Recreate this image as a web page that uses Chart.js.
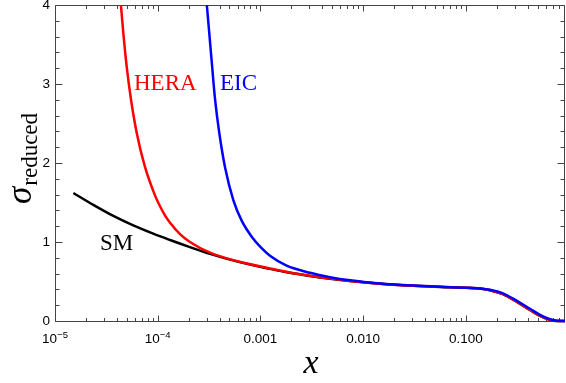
<!DOCTYPE html>
<html>
<head>
<meta charset="utf-8">
<script src="https://cdn.jsdelivr.net/npm/chart.js@4/dist/chart.umd.min.js"></script>
<style>
  html, body { margin: 0; padding: 0; background: #fff; }
</style>
</head>
<body>
<canvas id="myChart" width="566" height="383"></canvas>
<script>
// values
var smX = [1.51e-5, 2.36e-5, 3.70e-5, 5.78e-5, 9.05e-5, 1.32e-4, 2.06e-4, 3.23e-4, 5.87e-4, 1.24e-3, 1.94e-3, 3.04e-3, 4.76e-3, 7.45e-3, 1.46e-2, 3.06e-2, 5.61e-2, 0.1, 0.137, 0.172, 0.230, 0.315, 0.422, 0.528, 0.661, 0.773, 0.925];
var smY = [1.62, 1.47, 1.33, 1.21, 1.105, 1.025, 0.935, 0.85, 0.755, 0.66, 0.61, 0.57, 0.535, 0.505, 0.47, 0.445, 0.43, 0.42, 0.41, 0.39, 0.34, 0.24, 0.14, 0.065, 0.015, 0, 0];

var heraX = [4.37e-5, 4.63e-5, 4.99e-5, 5.50e-5, 6.25e-5, 7.52e-5, 9.41e-5, 1.05e-4, 1.18e-4, 1.32e-4, 1.65e-4, 2.06e-4, 3.23e-4, 5.87e-4, 1.24e-3, 1.94e-3, 3.04e-3, 4.76e-3, 7.45e-3, 1.46e-2, 3.06e-2, 5.61e-2, 0.1, 0.137, 0.172, 0.230, 0.315, 0.422, 0.528, 0.661, 0.773, 0.925];
var heraY = [4.02, 3.64, 3.22, 2.80, 2.38, 1.95, 1.59, 1.455, 1.335, 1.245, 1.10, 1.00, 0.865, 0.76, 0.665, 0.613, 0.572, 0.537, 0.507, 0.472, 0.447, 0.432, 0.421, 0.41, 0.39, 0.34, 0.24, 0.14, 0.065, 0.013, 0, 0];

var eicX = [3.00e-4, 3.18e-4, 3.36e-4, 3.61e-4, 3.98e-4, 4.52e-4, 5.45e-4, 6.57e-4, 8.53e-4, 1.04e-3, 1.24e-3, 1.80e-3, 3.04e-3, 4.76e-3, 7.45e-3, 1.46e-2, 3.06e-2, 5.61e-2, 0.1, 0.137, 0.172, 0.230, 0.315, 0.422, 0.528, 0.661, 0.773, 0.925];
var eicY = [4.02, 3.64, 3.28, 2.82, 2.38, 1.95, 1.53, 1.27, 1.04, 0.915, 0.825, 0.70, 0.61, 0.555, 0.515, 0.475, 0.448, 0.433, 0.422, 0.412, 0.395, 0.35, 0.255, 0.155, 0.078, 0.022, 0.002, 0];

var xTickValues = [1e-5, 1e-4, 1e-3, 1e-2, 1e-1];
var xTickBase = ['10', '10', '0.001', '0.010', '0.100'];
var xTickSup = ['\u22125', '\u22124', '', '', ''];
var yTickValues = [0, 1, 2, 3, 4];

function pts(xs, ys) {
    return xs.map(function (x, i) { return { x: x, y: ys[i] }; });
}

// frame with inward ticks on all four sides
var frame = {
    id: 'frame',
    beforeDatasetsDraw: function (chart) {
        var c = chart.ctx, a = chart.chartArea;
        var sx = chart.scales.x, sy = chart.scales.y;
        var L = Math.round(a.left) + 0.5, R = Math.round(a.right) - 0.5;
        var T = Math.round(a.top) + 0.5, B = Math.round(a.bottom) + 0.5;
        c.save();
        c.strokeStyle = '#444';
        c.lineWidth = 1;
        c.beginPath();
        c.moveTo(L, T); c.lineTo(R, T); c.lineTo(R, B); c.lineTo(L, B); c.closePath();
        for (var d = -5; d <= 0; d++) {
            for (var k = 1; k <= 9; k++) {
                var v = k * Math.pow(10, d);
                if (v < sx.min || v > sx.max) continue;
                var px = Math.round(sx.getPixelForValue(v)) + 0.5;
                var len = k === 1 ? 6 : 3.5;
                c.moveTo(px, B); c.lineTo(px, B - len);
                c.moveTo(px, T); c.lineTo(px, T + len);
            }
        }
        for (var i = 0; i <= 20; i++) {
            var py = Math.round(sy.getPixelForValue(i * 0.2)) + 0.5;
            var l = i % 5 === 0 ? 7 : 4;
            c.moveTo(L, py); c.lineTo(L + l, py);
            c.moveTo(R, py); c.lineTo(R - l, py);
        }
        c.stroke();
        c.restore();
    },
    afterDraw: function (chart) {
        var c = chart.ctx;
        var sx = chart.scales.x;
        c.save();
        // x tick labels with real superscripts
        c.fillStyle = '#000';
        c.textBaseline = 'alphabetic';
        c.textAlign = 'left';
        xTickValues.forEach(function (v, j) {
            var x0 = sx.getPixelForValue(v);
            c.font = '13.5px "Liberation Sans"';
            var wb = c.measureText(xTickBase[j]).width;
            c.font = '9.5px "Liberation Sans"';
            var ws = xTickSup[j] ? c.measureText(xTickSup[j]).width : 0;
            var left = x0 - (wb + ws) / 2;
            c.font = '13.5px "Liberation Sans"';
            c.fillText(xTickBase[j], left, 343);
            if (ws) {
                c.font = '9.5px "Liberation Sans"';
                c.fillText(xTickSup[j], left + wb, 338);
            }
        });

        // curve labels
        c.font = '23px "Liberation Serif"';
        c.fillStyle = '#ff0000'; c.fillText('HERA', 134, 90);
        c.fillStyle = '#0000ff'; c.fillText('EIC', 220, 90);
        c.fillStyle = '#000'; c.fillText('SM', 100, 250);
        // x title
        c.font = 'italic 34px "Liberation Serif"';
        c.textAlign = 'center';
        c.fillText('x', 311, 373);
        // y title, rotated
        c.translate(31, 204);
        c.rotate(-Math.PI / 2);
        c.textAlign = 'left';
        c.font = 'italic 35px "Liberation Serif"';
        c.fillText('\u03C3', 0, 0);
        var w = c.measureText('\u03C3').width;
        c.font = '23px "Liberation Serif"';
        c.fillText('reduced', w + 1, 6);
        c.restore();
    }
};

var ctx = document.getElementById('myChart').getContext('2d');
var chart = new Chart(ctx, {
    type: 'line',
    data: {
        datasets: [
            { label: 'EIC', data: pts(eicX, eicY), borderColor: '#0000ff' },
            { label: 'HERA', data: pts(heraX, heraY), borderColor: '#ff0000' },
            { label: 'SM', data: pts(smX, smY), borderColor: '#000000' }
        ]
    },
    options: {
        responsive: false,
        animation: false,
        devicePixelRatio: 1,
        layout: { padding: { left: 0, top: 5, right: 1, bottom: 0 } },
        elements: {
            point: { radius: 0 },
            line: { borderWidth: 2.5, cubicInterpolationMode: 'monotone', fill: false }
        },
        datasets: { line: { clip: { left: 2, top: 0, right: 2, bottom: 3 } } },
        plugins: { legend: { display: false }, tooltip: { enabled: false } },
        scales: {
            x: {
                type: 'logarithmic',
                min: 1e-5,
                max: 0.925,
                grid: { display: false, drawTicks: false },
                border: { display: false },
                afterBuildTicks: function (s) {
                    s.ticks = xTickValues.map(function (v) { return { value: v }; });
                },
                ticks: { display: false },
                afterFit: function (s) { s.height = 62; s.paddingLeft = 0; s.paddingRight = 0; }
            },
            y: {
                min: 0,
                max: 4,
                grid: { display: false, drawTicks: false },
                border: { display: false },
                afterBuildTicks: function (s) {
                    s.ticks = yTickValues.map(function (v) { return { value: v }; });
                },
                ticks: {
                    padding: 5,
                    color: '#000',
                    font: { family: '"Liberation Sans"', size: 13.5 }
                },
                afterFit: function (s) { s.width = 55; s.paddingTop = 0; s.paddingBottom = 0; }
            }
        }
    },
    plugins: [frame]
});
</script>
</body>
</html>
